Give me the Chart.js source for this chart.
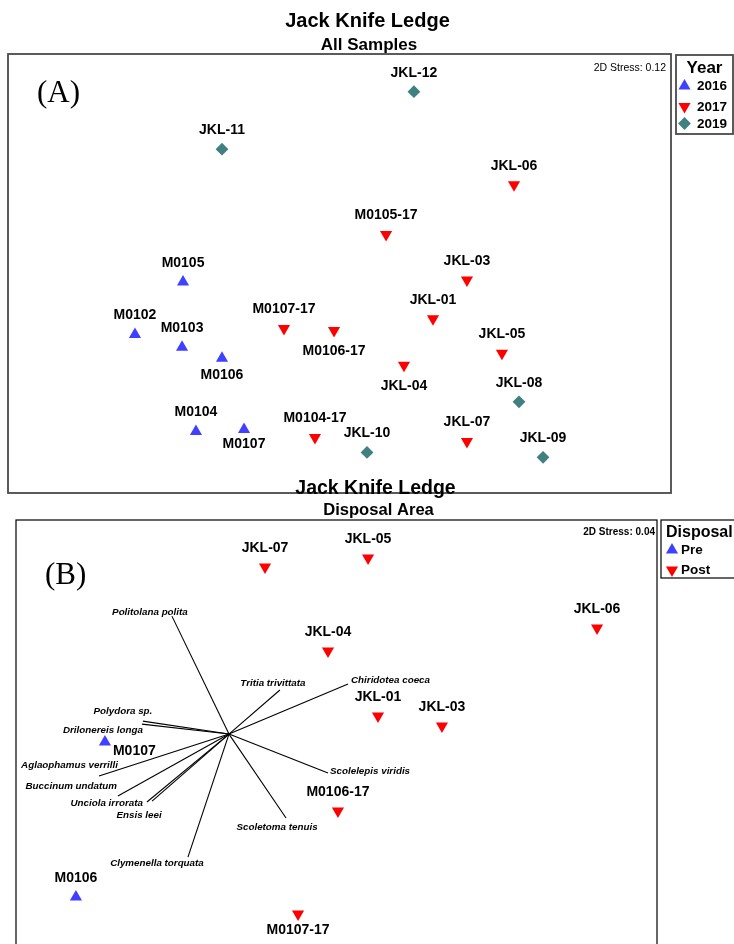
<!DOCTYPE html>
<html>
<head>
<meta charset="utf-8">
<title>Jack Knife Ledge – NMDS</title>
<script src="https://cdn.jsdelivr.net/npm/chart.js@4.4.1/dist/chart.umd.min.js"></script>
<style>
  html, body { margin: 0; padding: 0; background: #fff; overflow: hidden; width: 734px; height: 944px; }
  #wrap { position: relative; width: 734px; height: 944px; }
  canvas { position: absolute; left: 0; }
  #chartA { top: 0; }
  #chartB { top: 470px; }
</style>
</head>
<body>
<div id="wrap">
  <canvas id="chartA" width="734" height="500"></canvas>
  <canvas id="chartB" width="734" height="490"></canvas>
</div>
<script>
// ---------- (A) All samples: NMDS coordinates by year ----------
const names2016 = ['M0102', 'M0103', 'M0104', 'M0105', 'M0106', 'M0107'];
const x2016 = [-1.234, -0.950, -0.866, -0.944, -0.709, -0.576];
const y2016 = [-0.371, -0.449, -0.962, -0.051, -0.516, -0.950];

const names2017 = ['JKL-01', 'JKL-03', 'JKL-04', 'JKL-05', 'JKL-06', 'JKL-07', 'M0104-17', 'M0105-17', 'M0106-17', 'M0107-17'];
const x2017 = [0.564, 0.769, 0.389, 0.980, 1.053, 0.769, -0.148, 0.281, -0.033, -0.335];
const y2017 = [-0.275, -0.039, -0.558, -0.486, 0.540, -1.023, -0.998, 0.238, -0.347, -0.335];

const names2019 = ['JKL-08', 'JKL-09', 'JKL-10', 'JKL-11', 'JKL-12'];
const x2019 = [1.083, 1.228, 0.166, -0.709, 0.449];
const y2019 = [-0.781, -1.119, -1.089, 0.757, 1.107];

const stressA = '0.12';

// ---------- (B) Disposal area: NMDS coordinates, pre / post disposal ----------
const namesPre = ['M0106', 'M0107'];
const xPre = [-1.626, -1.445];
const yPre = [-1.005, -0.037];

const namesPost = ['JKL-01', 'JKL-03', 'JKL-04', 'JKL-05', 'JKL-06', 'JKL-07', 'M0106-17', 'M0107-17'];
const xPost = [0.259, 0.658, -0.053, 0.197, 1.626, -0.446, 0.009, -0.240];
const yPost = [0.125, 0.062, 0.530, 1.111, 0.674, 1.055, -0.468, -1.111];

const stressB = '0.04';

// Species vectors overlaid on (B)
const speciesNames = ['Politolana polita', 'Tritia trivittata', 'Chiridotea coeca', 'Polydora sp.', 'Drilonereis longa',
  'Aglaophamus verrilli', 'Buccinum undatum', 'Unciola irrorata', 'Ensis leei', 'Clymenella torquata',
  'Scolelepis viridis', 'Scoletoma tenuis'];
const vecX = [-0.356, 0.318, 0.743, -0.537, -0.543, -0.811, -0.693, -0.512, -0.480, -0.256, 0.618, 0.356];
const vecY = [0.736, 0.275, 0.312, 0.081, 0.062, -0.262, -0.387, -0.424, -0.418, -0.768, -0.243, -0.524];
const vecOrigin = { x: -0.671, y: 0.012 };

// ---------- styling ----------
const FONT = "'Liberation Sans', Arial, Helvetica, sans-serif";
const SERIF = "'Liberation Serif', 'Times New Roman', serif";
const BLUE = '#4040ff', RED = '#ff0000', TEAL = '#408080';

const shapes = {
  up:      { pointStyle: 'triangle', rotation: 0,   radius: 7 },
  down:    { pointStyle: 'triangle', rotation: 180, radius: 7 },
  diamond: { pointStyle: 'rectRot',  rotation: 0,   radius: 6.4 }
};

// label placement around markers (pixels): default above, a few below / right
const labelPlaceA = {
  'M0106':    { dy: 17 },
  'M0107':    { dy: 15 },
  'M0106-17': { dy: 21 },
  'JKL-04':   { dy: 21 }
};
const labelPlaceB = {
  'M0107':    { dx: 8, dy: 9, align: 'left' },
  'M0107-17': { dy: 16 }
};
// species label placement relative to the vector tip (pixels)
const vecLabelPlace = {
  'Politolana polita':   { align: 'center', dx: -22, dy: -4 },
  'Tritia trivittata':   { align: 'center', dx: -7,  dy: -7 },
  'Chiridotea coeca':    { align: 'left',   dx: 3,   dy: -4 },
  'Polydora sp.':        { align: 'center', dx: -20, dy: -10 },
  'Drilonereis longa':   { align: 'right',  dx: 1,   dy: 6 },
  'Aglaophamus verrilli':{ align: 'right',  dx: 19,  dy: -11 },
  'Buccinum undatum':    { align: 'right',  dx: -1,  dy: -10 },
  'Unciola irrorata':    { align: 'right',  dx: -4,  dy: 1 },
  'Ensis leei':          { align: 'center', dx: -13, dy: 14 },
  'Clymenella torquata': { align: 'center', dx: -31, dy: 6 },
  'Scolelepis viridis':  { align: 'left',   dx: 2,   dy: -2 },
  'Scoletoma tenuis':    { align: 'center', dx: -9,  dy: 9 }
};

function pointsDataset(label, names, xs, ys, shape, color) {
  const s = shapes[shape];
  return {
    label, names,
    data: names.map((n, i) => ({ x: xs[i], y: ys[i] })),
    showLine: false,
    pointStyle: s.pointStyle,
    rotation: s.rotation,
    pointRadius: s.radius,
    pointHoverRadius: s.radius,
    backgroundColor: color,
    borderColor: color,
    borderWidth: 0,
    order: 0
  };
}

function vectorDatasets() {
  return speciesNames.map((name, i) => ({
    label: name,
    vecName: name,
    data: [{ x: vecOrigin.x, y: vecOrigin.y }, { x: vecOrigin.x + vecX[i], y: vecOrigin.y + vecY[i] }],
    showLine: true,
    fill: false,
    pointRadius: 0,
    pointHoverRadius: 0,
    borderColor: '#000',
    borderWidth: 1.1,
    order: 1
  }));
}

function drawMarker(ctx, shape, x, y, color) {
  const s = shapes[shape];
  ctx.save();
  ctx.fillStyle = color;
  ctx.strokeStyle = color;
  Chart.helpers.drawPoint(ctx, { pointStyle: s.pointStyle, rotation: s.rotation, radius: s.radius, borderWidth: 0 }, x, y);
  ctx.restore();
}

// sample-name labels next to each marker
const sampleLabels = {
  id: 'sampleLabels',
  afterDatasetsDraw(chart, args, opts) {
    const ctx = chart.ctx;
    ctx.save();
    ctx.font = 'bold 14px ' + FONT;
    ctx.fillStyle = '#000';
    ctx.textBaseline = 'middle';
    chart.data.datasets.forEach((ds, i) => {
      if (!ds.names) return;
      chart.getDatasetMeta(i).data.forEach((el, j) => {
        const name = ds.names[j];
        const p = Object.assign({ dx: 0, dy: -19, align: 'center' }, (opts.place || {})[name] || {});
        ctx.textAlign = p.align;
        ctx.fillText(name, el.x + p.dx, el.y + p.dy);
      });
    });
    ctx.restore();
  }
};

// species names at the tips of the vectors
const vectorLabels = {
  id: 'vectorLabels',
  afterDatasetsDraw(chart) {
    const ctx = chart.ctx;
    ctx.save();
    ctx.font = 'italic bold 9.8px ' + FONT;
    ctx.fillStyle = '#000';
    ctx.textBaseline = 'middle';
    chart.data.datasets.forEach((ds, i) => {
      if (!ds.vecName) return;
      const tip = chart.getDatasetMeta(i).data[1];
      const p = vecLabelPlace[ds.vecName];
      ctx.textAlign = p.align;
      ctx.fillText(ds.vecName, tip.x + p.dx, tip.y + p.dy);
    });
    ctx.restore();
  }
};

// frame, titles, panel letter, stress value and legend box
const panelDecor = {
  id: 'panelDecor',
  afterDraw(chart, args, o) {
    const ctx = chart.ctx, a = chart.chartArea;
    ctx.save();
    ctx.strokeStyle = o.frameColor;
    ctx.lineWidth = o.frameWidth;
    ctx.strokeRect(a.left, a.top, a.right - a.left, a.bottom - a.top);

    ctx.fillStyle = '#000';
    ctx.textBaseline = 'alphabetic';
    ctx.textAlign = 'center';
    ctx.font = 'bold ' + o.title.size + 'px ' + FONT;
    ctx.fillText(o.title.text, o.title.x, o.title.y);
    ctx.font = 'bold ' + o.sub.size + 'px ' + FONT;
    ctx.fillText(o.sub.text, o.sub.x, o.sub.y);

    ctx.textAlign = 'left';
    ctx.font = '31px ' + SERIF;
    ctx.fillText(o.letter.text, o.letter.x, o.letter.y);

    ctx.textAlign = 'right';
    ctx.font = o.stress.font + ' ' + FONT;
    ctx.fillText('2D Stress: ' + o.stress.value, o.stress.x, o.stress.y);

    // legend
    const L = o.legend;
    ctx.strokeStyle = L.frameColor;
    ctx.lineWidth = L.frameWidth;
    ctx.strokeRect(L.box[0], L.box[1], L.box[2], L.box[3]);
    ctx.font = 'bold ' + L.titleSize + 'px ' + FONT;
    ctx.textAlign = L.titleAlign;
    ctx.fillText(L.title, L.titleX, L.titleY);
    ctx.font = 'bold 13.5px ' + FONT;
    ctx.textAlign = 'left';
    ctx.textBaseline = 'middle';
    L.items.forEach(it => {
      drawMarker(ctx, it.shape, L.markerX, it.y, it.color);
      ctx.fillStyle = '#000';
      ctx.fillText(it.text, L.textX, it.y + 0.5);
    });
    ctx.restore();
  }
};

function baseOptions(padding, xr, yr) {
  return {
    responsive: false,
    animation: false,
    devicePixelRatio: 1,
    events: [],
    layout: { padding },
    scales: {
      x: { type: 'linear', min: -xr, max: xr, display: false },
      y: { type: 'linear', min: -yr, max: yr, display: false }
    },
    plugins: { legend: { display: false }, tooltip: { enabled: false } }
  };
}

// ----- Chart (A) -----
const optsA = baseOptions({ left: 8, top: 54, right: 63, bottom: 3 }, 2, 1.3363);
optsA.plugins.sampleLabels = { place: labelPlaceA };
optsA.plugins.panelDecor = {
  frameColor: '#4a4a4a', frameWidth: 1.8,
  title: { text: 'Jack Knife Ledge', size: 20, x: 367.5, y: 27 },
  sub: { text: 'All Samples', size: 17, x: 369, y: 50 },
  letter: { text: '(A)', x: 37, y: 102 },
  stress: { value: stressA, font: '10.5px', x: 666, y: 71 },
  legend: {
    frameColor: '#4a4a4a', frameWidth: 1.8, box: [676, 55, 57, 79],
    title: 'Year', titleSize: 17, titleAlign: 'center', titleX: 704.5, titleY: 73,
    markerX: 684.5, textX: 697,
    items: [
      { text: '2016', shape: 'up', color: BLUE, y: 86 },
      { text: '2017', shape: 'down', color: RED, y: 106.5 },
      { text: '2019', shape: 'diamond', color: TEAL, y: 123.5 }
    ]
  }
};
new Chart(document.getElementById('chartA'), {
  type: 'scatter',
  data: {
    datasets: [
      pointsDataset('2016', names2016, x2016, y2016, 'up', BLUE),
      pointsDataset('2017', names2017, x2017, y2017, 'down', RED),
      pointsDataset('2019', names2019, x2019, y2019, 'diamond', TEAL)
    ]
  },
  options: optsA,
  plugins: [sampleLabels, panelDecor]
});

// ----- Chart (B) ----- (canvas starts 470px down the page)
const optsB = baseOptions({ left: 16, top: 50, right: 77, bottom: 8 }, 2, 1.3479);
optsB.plugins.sampleLabels = { place: labelPlaceB };
optsB.plugins.panelDecor = {
  frameColor: '#000', frameWidth: 1.2,
  title: { text: 'Jack Knife Ledge', size: 19.5, x: 375.5, y: 24 },
  sub: { text: 'Disposal Area', size: 16.6, x: 378.5, y: 45 },
  letter: { text: '(B)', x: 45, y: 114 },
  stress: { value: stressB, font: 'bold 10px', x: 655, y: 65 },
  legend: {
    frameColor: '#000', frameWidth: 1.2, box: [661, 50, 90, 58],
    title: 'Disposal', titleSize: 16, titleAlign: 'left', titleX: 666, titleY: 67,
    markerX: 672, textX: 681,
    items: [
      { text: 'Pre', shape: 'up', color: BLUE, y: 80 },
      { text: 'Post', shape: 'down', color: RED, y: 100 }
    ]
  }
};
new Chart(document.getElementById('chartB'), {
  type: 'scatter',
  data: {
    datasets: [
      pointsDataset('Pre', namesPre, xPre, yPre, 'up', BLUE),
      pointsDataset('Post', namesPost, xPost, yPost, 'down', RED),
      ...vectorDatasets()
    ]
  },
  options: optsB,
  plugins: [vectorLabels, sampleLabels, panelDecor]
});
</script>
</body>
</html>
